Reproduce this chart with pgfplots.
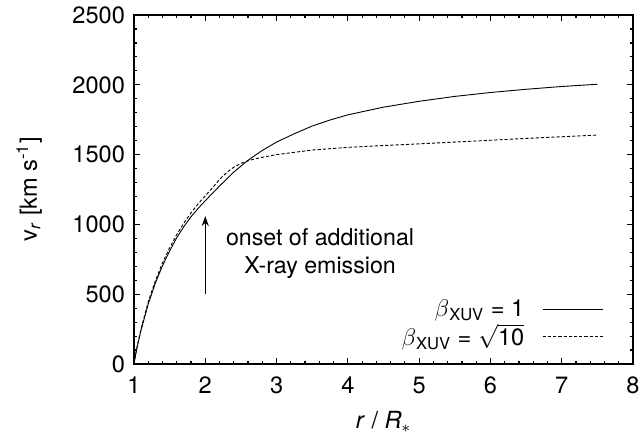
\documentclass[border=0pt]{standalone}
\usepackage{pgfplots}
\pgfplotsset{compat=1.18}
\usepackage{fontspec}
\setmainfont{TeX Gyre Heros}
\usetikzlibrary{arrows.meta}

% velocity laws: r / R_*, v_r in km/s
\pgfplotstableread{
r     v
1.00  0
1.02  60
1.05  135
1.10  245
1.20  430
1.30  580
1.40  705
1.50  810
1.60  905
1.70  985
1.80  1055
1.90  1115
2.00  1170
2.20  1275
2.40  1375
2.60  1460
2.80  1530
3.00  1590
3.25  1650
3.50  1705
3.75  1748
4.00  1785
4.50  1840
5.00  1882
5.50  1917
6.00  1945
6.50  1968
7.00  1988
7.50  2004
}\betaone

\pgfplotstableread{
r     v
1.00  0
1.02  62
1.05  140
1.10  255
1.20  445
1.30  598
1.40  725
1.50  832
1.60  928
1.70  1010
1.80  1083
1.90  1148
2.00  1205
2.10  1262
2.20  1322
2.30  1372
2.40  1410
2.50  1438
2.60  1456
2.70  1470
2.80  1481
3.00  1500
3.50  1533
4.00  1552
4.50  1565
5.00  1577
5.50  1590
6.00  1603
6.50  1616
7.00  1628
7.50  1640
}\betaten

\begin{document}
\begin{tikzpicture}
\begin{axis}[
    scale only axis,
    width=249.5pt, height=174.5pt,
    xmin=1, xmax=8, ymin=0, ymax=2500,
    xtick={1,2,...,8},
    ytick={0,500,...,2500},
    minor x tick num=4,
    minor y tick num=4,
    tick align=inside,
    major tick length=3pt,
    minor tick length=1.6pt,
    axis line style={line width=0.8pt},
    every tick/.style={black, line width=0.6pt},
    /pgf/number format/assume math mode=true,
    /pgf/number format/1000 sep={},
    font=\fontsize{11.8}{13}\selectfont,
    xticklabel style={yshift=-3pt},
    yticklabel style={xshift=-1pt},
    xlabel={\textit{r} / \textit{R}$_{*}$},
    ylabel={v\textsubscript{\textit{r}} [km s\textsuperscript{-1}]},
    xlabel style={at={(axis description cs:0.5,-0.165)}, anchor=center},
    ylabel style={at={(axis description cs:-0.21,0.5)}, anchor=center},
    legend plot pos=right,
    legend cell align=right,
    legend style={draw=none, fill=none, at={(axis description cs:0.945,0.025)},
        anchor=south east, row sep=-2pt, inner sep=1pt,
        font=\fontsize{11.8}{13}\selectfont},
    legend image code/.code={\path (0pt,0pt); \draw[#1] (7pt,0pt) -- (37pt,0pt);},
    clip=false,
]
\addplot[black, line width=0.45pt] table[x=r, y=v] {\betaone};
\addlegendentry{$\beta$\textsubscript{XUV} = 1}
\addplot[black, line width=0.45pt, dash pattern=on 1.6pt off 1pt] table[x=r, y=v] {\betaten};
\addlegendentry{$\beta$\textsubscript{XUV} = $\sqrt{\mbox{10}}$}

\draw[-{Stealth[length=5pt, width=3.5pt]}, line width=0.7pt] (axis cs:2,500) -- (axis cs:2,1060);
\node[align=center, font=\fontsize{11.6}{14}\selectfont] at (axis cs:3.61,795)
    {onset of additional\\X-ray emission};

\coordinate (bl) at (axis description cs:-0.2685,-0.1948);
\coordinate (tr) at (axis description cs:1.022,1.043);
\end{axis}
\pgfresetboundingbox
\path (bl) rectangle (tr);
\end{tikzpicture}
\end{document}
